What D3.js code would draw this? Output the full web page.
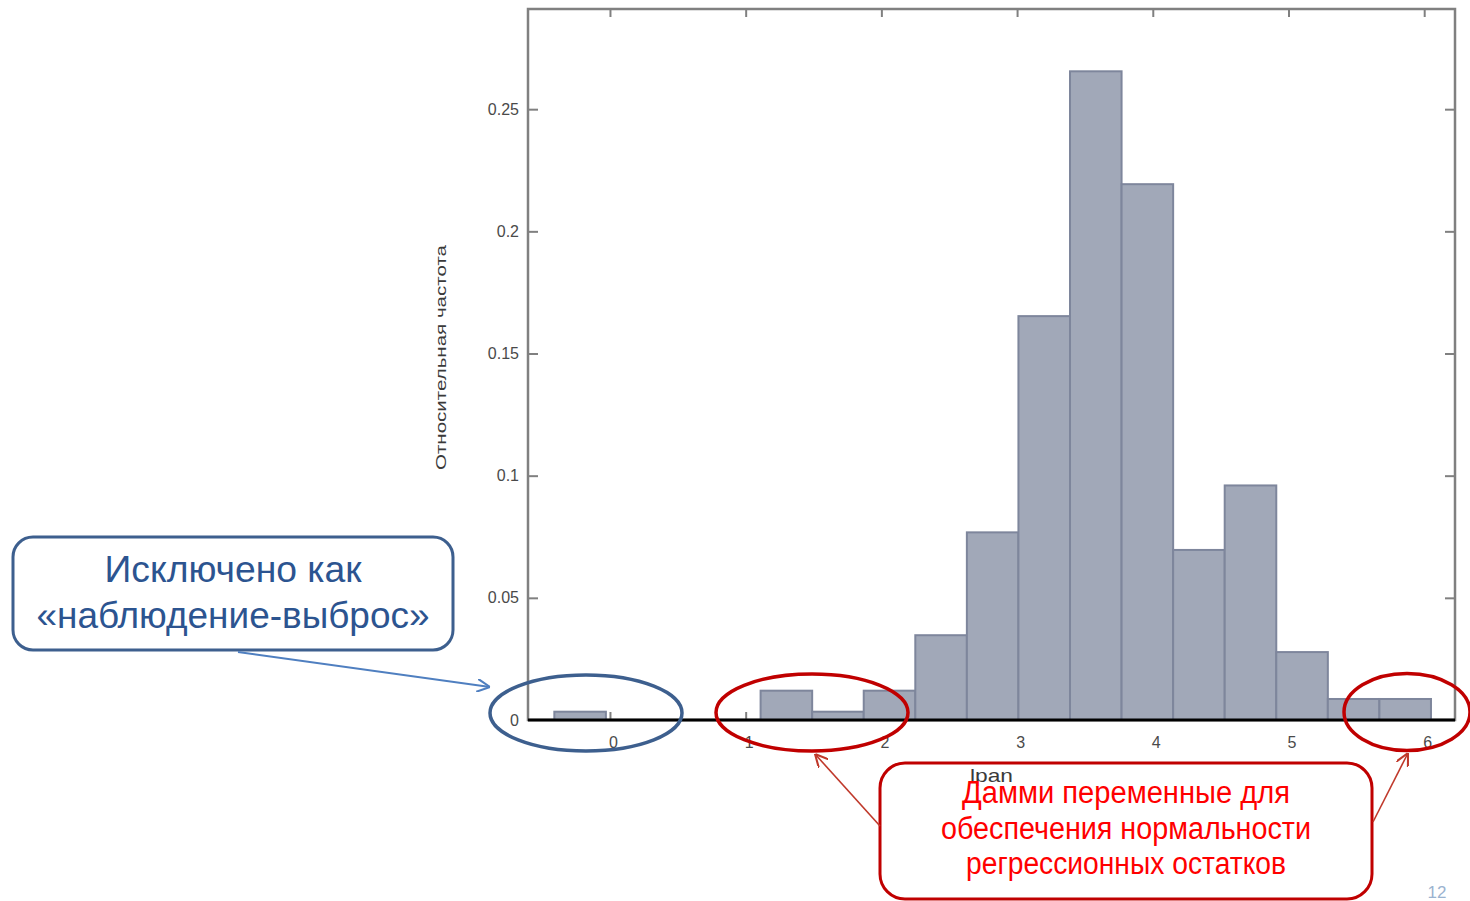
<!DOCTYPE html>
<html>

<head>
  <meta charset="UTF-8">
  <title>histogram-residuals</title>
  <style type="text/css">
    body {
      margin: 0;
      background: #fff;
    }

    svg text {
      font-family: "Liberation Sans", Arial, sans-serif;
    }

    .tick line {
      stroke: #808080;
      stroke-width: 2px;
    }

    .tick text {
      fill: #4a4a4a;
      font-size: 16px;
    }

    .bar {
      fill: #a1a8b8;
      stroke: #7e869c;
      stroke-width: 2px;
    }
  </style>
</head>

<body>
  <div class="svg-zone"></div>
  <script src="https://cdn.jsdelivr.net/npm/d3@7"></script>
  <script type="text/javascript">
    // bin edges (lpan units) and relative frequency of each bin
    var binEdges = [-0.41, -0.03, 0.35, 0.73, 1.11, 1.49, 1.87, 2.25, 2.63,
      3.01, 3.39, 3.77, 4.15, 4.53, 4.91, 5.29, 5.67, 6.05];
    var relFreq = [0.0034, 0, 0, 0, 0.012, 0.0034, 0.012, 0.0347, 0.0768,
      0.1653, 0.2655, 0.2193, 0.0696, 0.096, 0.0278, 0.0086, 0.0086];

    var xTicks = [0, 1, 2, 3, 4, 5, 6];
    var yTicks = [0, 0.05, 0.1, 0.15, 0.2, 0.25];
    var yTickLabels = ["0", "0.05", "0.1", "0.15", "0.2", "0.25"];

    var xTitle = "lpan",
      yTitle = "Относительная частота";
    var blueNote = ["Исключено как", "«наблюдение-выброс»"];
    var redNote = ["Дамми переменные для", "обеспечения нормальности", "регрессионных остатков"];

    var width = 1470,
      height = 901,
      plot = { left: 528, right: 1455, top: 9, bottom: 720 };

    var x = d3.scaleLinear()
      .domain([-0.604, 6.227])
      .range([plot.left, plot.right]);
    var y = d3.scaleLinear()
      .domain([0, 0.291])
      .range([plot.bottom, plot.top]);

    var svg = d3.select(".svg-zone").append("svg")
      .attr("width", width)
      .attr("height", height);

    var defs = svg.append("defs");
    function arrowHead(id, color) {
      defs.append("marker")
        .attr("id", id)
        .attr("viewBox", "0 0 10 10")
        .attr("refX", 10)
        .attr("refY", 5)
        .attr("markerUnits", "userSpaceOnUse")
        .attr("markerWidth", 13)
        .attr("markerHeight", 13)
        .attr("orient", "auto")
        .append("path")
        .attr("d", "M0,0 L10,5 L0,10")
        .attr("fill", "none")
        .attr("stroke", color)
        .attr("stroke-width", 1.6);
    }
    arrowHead("arrBlue", "#4f7fc0");
    arrowHead("arrRed", "#c0392b");

    // axes, ticks pointing inside
    var yLeft = svg.append("g")
      .attr("transform", "translate(" + plot.left + ",0)")
      .call(d3.axisLeft(y).tickValues(yTicks).tickSize(-10).tickPadding(9)
        .tickFormat(function (d, i) { return yTickLabels[i]; }));
    yLeft.select(".domain").remove();
    yLeft.selectAll(".tick").filter(function (d) { return d === 0; }).select("line").remove();

    var yRight = svg.append("g")
      .attr("transform", "translate(" + plot.right + ",0)")
      .call(d3.axisRight(y).tickValues(yTicks.slice(1)).tickSize(-10).tickFormat(""));
    yRight.select(".domain").remove();

    var xTop = svg.append("g")
      .attr("transform", "translate(0," + plot.top + ")")
      .call(d3.axisTop(x).tickValues(xTicks).tickSize(-8).tickFormat(""));
    xTop.select(".domain").remove();

    var xBottom = svg.append("g")
      .attr("transform", "translate(0," + plot.bottom + ")")
      .call(d3.axisBottom(x).tickValues(xTicks).tickSize(-8).tickPadding(17)
        .tickFormat(d3.format("d")));
    xBottom.select(".domain").remove();
    xBottom.selectAll(".tick text").attr("dx", 3);

    svg.append("rect")
      .attr("x", plot.left)
      .attr("y", plot.top)
      .attr("width", plot.right - plot.left)
      .attr("height", plot.bottom - plot.top)
      .attr("fill", "none")
      .attr("stroke", "#808080")
      .attr("stroke-width", 2.5);

    // histogram bars
    var bins = relFreq.map(function (f, i) {
      return { x0: binEdges[i], x1: binEdges[i + 1], f: f };
    }).filter(function (d) { return d.f > 0; });

    svg.selectAll(".bar")
      .data(bins)
      .enter().append("rect")
      .attr("class", "bar")
      .attr("x", function (d) { return x(d.x0); })
      .attr("y", function (d) { return y(d.f); })
      .attr("width", function (d) { return x(d.x1) - x(d.x0); })
      .attr("height", function (d) { return y(0) - y(d.f); });

    // zero line
    svg.append("line")
      .attr("x1", plot.left)
      .attr("x2", plot.right)
      .attr("y1", y(0))
      .attr("y2", y(0))
      .attr("stroke", "#000")
      .attr("stroke-width", 3);

    svg.append("text")
      .attr("transform", "translate(446,357.5) rotate(-90)")
      .attr("text-anchor", "middle")
      .attr("font-size", 15)
      .attr("textLength", 225)
      .attr("lengthAdjust", "spacingAndGlyphs")
      .attr("fill", "#3a3a3a")
      .text(yTitle);

    svg.append("text")
      .attr("x", (plot.left + plot.right) / 2)
      .attr("y", 782)
      .attr("text-anchor", "middle")
      .attr("font-size", 19)
      .attr("textLength", 43)
      .attr("lengthAdjust", "spacingAndGlyphs")
      .attr("fill", "#3a3a3a")
      .text(xTitle);

    // annotations
    svg.append("rect")
      .attr("x", 13).attr("y", 537)
      .attr("width", 440).attr("height", 113)
      .attr("rx", 20)
      .attr("fill", "#fff")
      .attr("stroke", "#3d5f8e")
      .attr("stroke-width", 3);

    svg.selectAll(".blue-note")
      .data(blueNote)
      .enter().append("text")
      .attr("class", "blue-note")
      .attr("x", 233)
      .attr("y", function (d, i) { return 582 + i * 46; })
      .attr("text-anchor", "middle")
      .attr("font-size", 36)
      .attr("textLength", function (d, i) { return [257, 393][i]; })
      .attr("lengthAdjust", "spacingAndGlyphs")
      .attr("fill", "#2c5490")
      .text(function (d) { return d; });

    svg.append("line")
      .attr("x1", 238).attr("y1", 652)
      .attr("x2", 490).attr("y2", 687)
      .attr("stroke", "#4f7fc0")
      .attr("stroke-width", 2)
      .attr("marker-end", "url(#arrBlue)");

    svg.append("ellipse")
      .attr("cx", 586).attr("cy", 713)
      .attr("rx", 96).attr("ry", 38)
      .attr("fill", "none")
      .attr("stroke", "#3d5f8e")
      .attr("stroke-width", 3.5);

    svg.selectAll(".red-ring")
      .data([[812, 712.5, 96], [1407, 712, 63]])
      .enter().append("ellipse")
      .attr("class", "red-ring")
      .attr("cx", function (d) { return d[0]; })
      .attr("cy", function (d) { return d[1]; })
      .attr("rx", function (d) { return d[2]; })
      .attr("ry", 38.5)
      .attr("fill", "none")
      .attr("stroke", "#c00000")
      .attr("stroke-width", 3.5);

    svg.append("rect")
      .attr("x", 880).attr("y", 763)
      .attr("width", 492).attr("height", 136)
      .attr("rx", 25)
      .attr("fill", "none")
      .attr("stroke", "#c00000")
      .attr("stroke-width", 3);

    svg.selectAll(".red-note")
      .data(redNote)
      .enter().append("text")
      .attr("class", "red-note")
      .attr("x", 1126)
      .attr("y", function (d, i) { return 803 + i * 35.5; })
      .attr("text-anchor", "middle")
      .attr("font-size", 31)
      .attr("textLength", function (d, i) { return [328, 370, 320][i]; })
      .attr("lengthAdjust", "spacingAndGlyphs")
      .attr("fill", "#ff0000")
      .text(function (d) { return d; });

    svg.selectAll(".red-arrow")
      .data([[880, 826, 815, 754], [1373, 822, 1408, 753]])
      .enter().append("line")
      .attr("class", "red-arrow")
      .attr("x1", function (d) { return d[0]; })
      .attr("y1", function (d) { return d[1]; })
      .attr("x2", function (d) { return d[2]; })
      .attr("y2", function (d) { return d[3]; })
      .attr("stroke", "#c0392b")
      .attr("stroke-width", 1.6)
      .attr("marker-end", "url(#arrRed)");

    svg.append("text")
      .attr("x", 1437)
      .attr("y", 898)
      .attr("text-anchor", "middle")
      .attr("font-size", 17)
      .attr("fill", "#9bb3d0")
      .text("12");
  </script>

</body>

</html>
